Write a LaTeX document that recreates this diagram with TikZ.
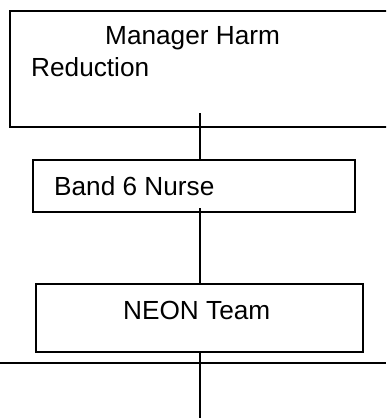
\documentclass[tikz,border=0pt]{standalone}
\usepackage{fontspec}
\setmainfont{Liberation Sans}
\usetikzlibrary{positioning}
\tikzset{orgbox/.style = {draw, rectangle, line width=1.6pt, inner sep=0pt,
                          anchor=north west},
         orgtext/.style = {anchor=base west, inner sep=0pt,
                           font=\fontsize{26.2}{32}\selectfont},
         link/.style = {line width=1.6pt}}

\begin{document}
\begin{tikzpicture}[x=1pt, y=-1pt]
    \useasboundingbox (0, 0) rectangle (386, 418);
    \clip (0, 0) rectangle (386, 418);

    % boxes
    \node [orgbox, minimum width=400pt, minimum height=116pt] (mgr) at (9, 10) {};
    \node [orgbox, minimum width=322pt, minimum height=52pt] (nurse) at (32, 159) {};
    \node [orgbox, minimum width=327pt, minimum height=68pt] (neon) at (35, 283) {};

    % labels
    \node [orgtext] (mgrtop) at (105, 44) {Manager Harm};
    \node [orgtext] (mgrbot) at (31, 76) {Reduction};
    \node [orgtext] (nursetext) at (54, 195) {Band 6 Nurse};
    \node [orgtext] (neontext) at (123, 319) {NEON Team};

    % links
    \coordinate (mgrfoot) at (200, 113);
    \coordinate (nursefoot) at (200, 208);
    \coordinate (neonfoot) at (200, 418);
    \coordinate (railwest) at (0, 363);
    \coordinate (raileast) at (386, 363);
    \draw [link] (mgrfoot) -- (mgrfoot |- nurse.north);
    \draw [link] (nursefoot) -- (nursefoot |- neon.north);
    \draw [link] (nursefoot |- neon.south) -- (neonfoot);
    \draw [link] (railwest) -- (raileast);
\end{tikzpicture}
\end{document}
